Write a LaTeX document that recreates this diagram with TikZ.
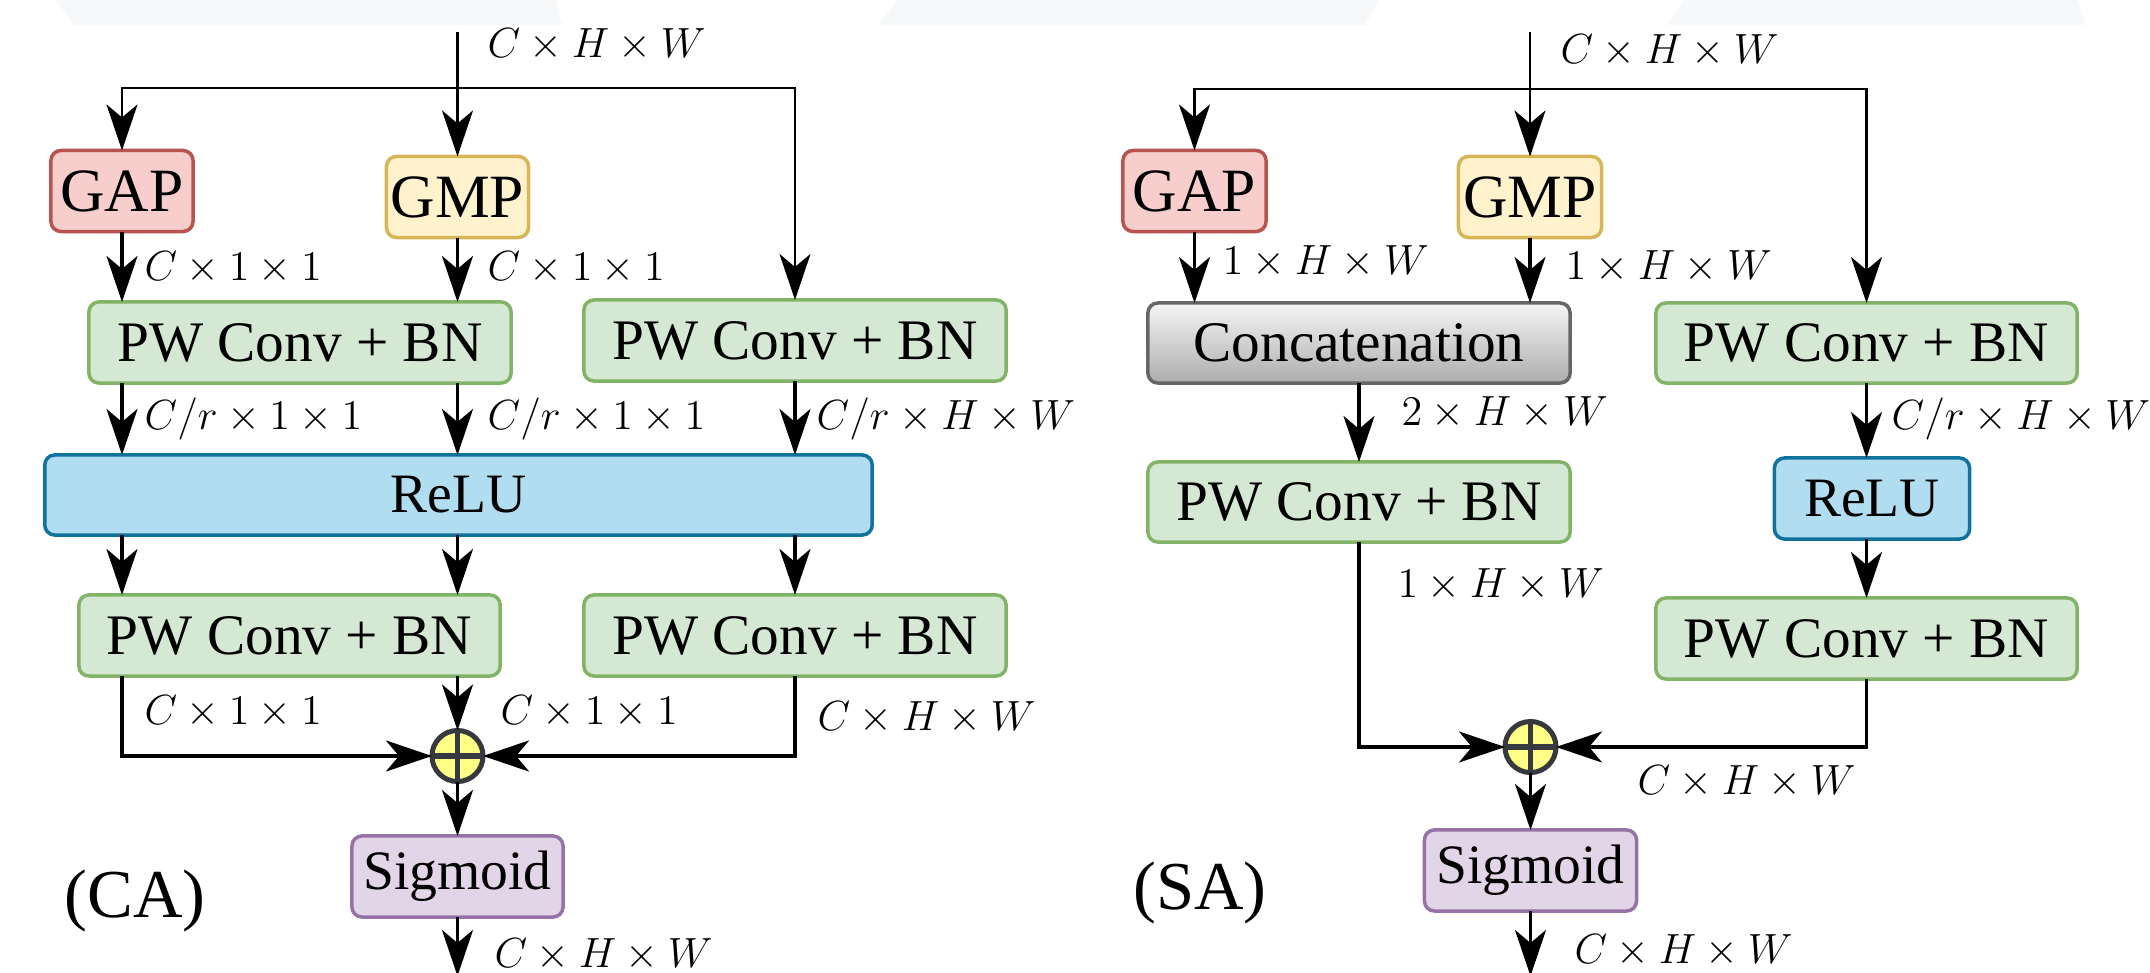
\documentclass[tikz,border=0pt]{standalone}
\usepackage{fontspec}
\setmainfont{Liberation Serif}
\usetikzlibrary{arrows.meta}
\definecolor{gapF}{HTML}{F8CECC}\definecolor{gapD}{HTML}{B85450}
\definecolor{gmpF}{HTML}{FFF2CC}\definecolor{gmpD}{HTML}{D6B656}
\definecolor{pwF}{HTML}{D5E8D4}\definecolor{pwD}{HTML}{82B366}
\definecolor{reluF}{HTML}{B1DDF0}\definecolor{reluD}{HTML}{10739E}
\definecolor{sigF}{HTML}{E1D5E7}\definecolor{sigD}{HTML}{9673A6}
\definecolor{catD}{HTML}{666666}\definecolor{catT}{HTML}{F5F5F5}\definecolor{catB}{HTML}{ADADAD}
\definecolor{opF}{HTML}{FFFF88}\definecolor{opD}{HTML}{36393D}
\definecolor{faint}{HTML}{F7F8FA}
\begin{document}
\begin{tikzpicture}[x=0.01cm,y=-0.01cm,
  box/.style={rounded corners=0.1cm, line width=0.035cm, inner sep=0pt, outer sep=0pt,
    minimum height=0.81cm, font=\fontsize{16.3}{19}\selectfont},
  gapbox/.style={box, draw=gapD, fill=gapF, minimum width=1.42cm, font=\fontsize{17.5}{20}\selectfont},
  gmpbox/.style={box, draw=gmpD, fill=gmpF, minimum width=1.42cm, font=\fontsize{17.5}{20}\selectfont},
  pwbox/.style={box, draw=pwD, fill=pwF, minimum width=4.21cm},
  relubox/.style={box, draw=reluD, fill=reluF, font=\fontsize{15.8}{18}\selectfont},
  sigbox/.style={box, draw=sigD, fill=sigF, minimum width=2.11cm, font=\fontsize{15.8}{18}\selectfont},
  catbox/.style={box, draw=catD, top color=catT, bottom color=catB, minimum width=4.22cm},
  opnode/.style={circle, draw=opD, fill=opF, line width=0.05cm, minimum size=0.51cm, inner sep=0pt, outer sep=0pt},
  lbl/.style={anchor=west, inner sep=0pt, font=\fontsize{12.3}{14}\selectfont},
  tag/.style={inner sep=0pt, font=\fontsize{19.5}{22}\selectfont},
  arr/.style={line width=0.035cm, -{Stealth[length=0.46cm,width=0.31cm,inset=0.13cm]}},
  arrT/.style={line width=0.025cm, -{Stealth[length=0.46cm,width=0.31cm,inset=0.13cm]}},
  ln/.style={line width=0.025cm}
]
\useasboundingbox (0,0) rectangle (2150,973);
% faint background strips at the top
\fill[faint] (55,0) -- (556,0) -- (562,25) -- (75,25) -- cycle;
\fill[faint] (898,0) -- (1379,0) -- (1365,25) -- (878,25) -- cycle;
\fill[faint] (1684,0) -- (2078,0) -- (2085,25) -- (1667,25) -- cycle;

% ================= CA =================
\node[gapbox] (gap1) at (122,191) {GAP};
\node[gmpbox] (gmp1) at (457.5,197) {GMP};
\node[pwbox, minimum width=4.22cm] (pw1) at (300,342.5) {PW Conv + BN};
\node[pwbox, minimum width=4.22cm] (pw2) at (795,340.5) {PW Conv + BN};
\node[relubox, minimum width=8.27cm, minimum height=0.80cm] (relu1) at (458.5,495) {ReLU};
\node[pwbox] (pw3) at (289.5,635.5) {PW Conv + BN};
\node[pwbox, minimum width=4.22cm] (pw4) at (795,635.5) {PW Conv + BN};
\node[opnode] (op1) at (457.5,756) {};
\draw[opD, line width=0.05cm] (op1.north) -- (op1.south) (op1.west) -- (op1.east);
\node[sigbox] (sig1) at (457.5,876.5) {Sigmoid};
\node[tag] (ca) at (135,901) {(CA)};

\coordinate (in1) at (457.5,32);
\coordinate (j1) at (457.5,88);
\coordinate (out1) at (457.5,976);
\draw[ln] (in1) -- (j1);
\draw[arrT] (j1) -- (gmp1.north);
\draw[arrT] (j1) -| (gap1.north);
\draw[arrT] (j1) -| (pw2.north);
\draw[arr] (gap1.south) -- (gap1.south |- pw1.north);
\draw[arr] (gmp1.south) -- (gmp1.south |- pw1.north);
\draw[arr] (gap1.south |- pw1.south) -- (gap1.south |- relu1.north);
\draw[arr] (gmp1.south |- pw1.south) -- (gmp1.south |- relu1.north);
\draw[arr] (pw2.south) -- (pw2.south |- relu1.north);
\draw[arr] (gap1.south |- relu1.south) -- (gap1.south |- pw3.north);
\draw[arr] (gmp1.south |- relu1.south) -- (gmp1.south |- pw3.north);
\draw[arr] (pw2.south |- relu1.south) -- (pw4.north);
\draw[arr] (gap1.south |- pw3.south) |- (op1.west);
\draw[arr] (gmp1.south |- pw3.south) -- (op1.north);
\draw[arr] (pw4.south) |- (op1.east);
\draw[arr] (op1.south) -- (sig1.north);
\draw[arr] (sig1.south) -- (out1);

\node[lbl] (t1) at (487,45) {$C\times H\times W$};
\node[lbl] (t2) at (144,268) {$C\times 1\times 1$};
\node[lbl] (t3) at (487,268) {$C\times 1\times 1$};
\node[lbl] (t4) at (144,419) {$C/r\times 1\times 1$};
\node[lbl] (t5) at (487,419) {$C/r\times 1\times 1$};
\node[lbl] (t6) at (816,419) {$C/r\times H\times W$};
\node[lbl] (t7) at (144,712) {$C\times 1\times 1$};
\node[lbl] (t8) at (500,712) {$C\times 1\times 1$};
\node[lbl] (t9) at (817,718) {$C\times H\times W$};
\node[lbl] (t10) at (494,955) {$C\times H\times W$};

% ================= SA =================
\node[gapbox, minimum width=1.43cm] (gap2) at (1194.5,191) {GAP};
\node[gmpbox, minimum width=1.43cm] (gmp2) at (1530,197) {GMP};
\node[catbox, minimum height=0.80cm] (cat) at (1359,343) {Concatenation};
\node[pwbox, minimum height=0.80cm] (pw5) at (1866.5,343) {PW Conv + BN};
\node[pwbox, minimum width=4.22cm, minimum height=0.80cm] (pw6) at (1359,502) {PW Conv + BN};
\node[relubox, minimum width=1.95cm] (relu2) at (1872,498.5) {ReLU};
\node[pwbox] (pw7) at (1866.5,638.5) {PW Conv + BN};
\node[opnode] (op2) at (1530.5,747) {};
\draw[opD, line width=0.05cm] (op2.north) -- (op2.south) (op2.west) -- (op2.east);
\node[sigbox, minimum width=2.12cm] (sig2) at (1530.5,870.5) {Sigmoid};
\node[tag] (sa) at (1200,893) {(SA)};

\coordinate (in2) at (1530,32);
\coordinate (j2) at (1530,89);
\coordinate (out2) at (1530.5,976);
\draw[ln] (in2) -- (j2);
\draw[arrT] (j2) -- (gmp2.north);
\draw[arrT] (j2) -| (gap2.north);
\draw[arrT] (j2) -| (pw5.north);
\draw[arr] (gap2.south) -- (gap2.south |- cat.north);
\draw[arr] (gmp2.south) -- (gmp2.south |- cat.north);
\draw[arr] (cat.south) -- (pw6.north);
\draw[arr] (pw5.south) -- (pw5.south |- relu2.north);
\draw[arr] (pw5.south |- relu2.south) -- (pw7.north);
\draw[arr] (pw6.south) |- (op2.west);
\draw[arr] (pw7.south) |- (op2.east);
\draw[arr] (op2.south) -- (sig2.north);
\draw[arr] (sig2.south) -- (out2);

\node[lbl] (s1) at (1560,51) {$C\times H\times W$};
\node[lbl] (s2) at (1222,262) {$1\times H\times W$};
\node[lbl] (s3) at (1565,267) {$1\times H\times W$};
\node[lbl] (s4) at (1401,413) {$2\times H\times W$};
\node[lbl] (s5) at (1891,419) {$C/r\times H\times W$};
\node[lbl] (s6) at (1397,585) {$1\times H\times W$};
\node[lbl] (s7) at (1637,782) {$C\times H\times W$};
\node[lbl] (s8) at (1574,951) {$C\times H\times W$};
\end{tikzpicture}
\end{document}
